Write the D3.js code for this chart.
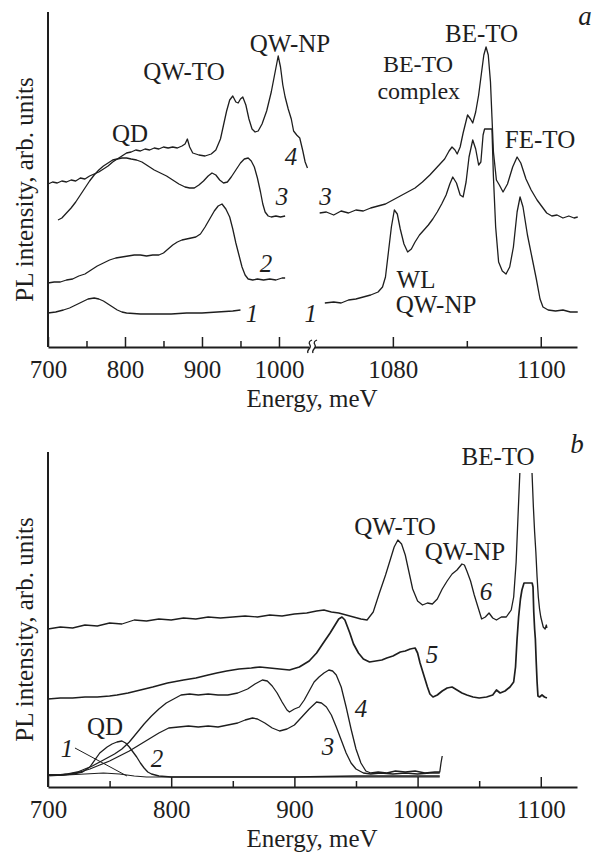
<!DOCTYPE html>
<html>
<head>
<meta charset="utf-8">
<script src="https://cdnjs.cloudflare.com/ajax/libs/d3/7.8.5/d3.min.js"></script>
<style>
  body { margin: 0; background: #fff; }
  svg text { font-family: "Liberation Serif", "Times New Roman", serif; fill: #1e1e1e; }
</style>
</head>
<body>
<div id="chart"></div>
<script>
// ---- data: [energy meV, PL intensity arb. units] ----
// panel a, left part of the energy axis (700..1044 meV)
var a1Left = [[700,34],[710,35],[720,37],[728,39],[736,42],[744,45],[752,48],[760,49],[766,48],[772,46],[778,43],[784,40],[790,37],[796,35],[802,34],[820,33],[840,33],[860,33],[880,34],[900,34],[920,35],[940,36],[950,37]];
var a2 = [[700,64],[708,65],[716,65],[724,67],[732,68],[740,71],[748,73],[756,77],[764,81],[772,84],[780,87],[788,89],[796,90],[804,91],[812,92],[820,92],[828,91],[836,92],[844,92],[850,94],[856,98],[862,102],[868,105],[874,107],[880,108],[886,109],[892,110],[898,113],[904,120],[910,128],[916,136],[921,141],[926,143],[931,138],[936,130],[940,118],[944,104],[948,92],[952,80],[956,72],[960,68],[966,67],[972,68],[980,67],[988,68],[996,67],[1004,69],[1008,69]];
var a3Left = [[713,127],[718,129],[724,134],[730,139],[736,145],[742,152],[748,159],[754,166],[760,172],[766,177],[772,181],[778,184],[784,187],[790,188],[796,189],[802,189],[808,188],[815,187],[822,185],[830,181],[838,177],[846,174],[854,171],[862,167],[870,163],[878,160],[884,159],[890,159],[896,162],[902,166],[908,171],[913,174],[918,172],[923,167],[928,164],[933,165],[938,170],[944,177],[950,184],[955,188],[960,189],[964,186],[968,180],[972,169],[976,155],[979,143],[982,135],[986,131],[990,130],[996,131],[1002,130],[1008,131]];
var a4 = [[700,163],[706,165],[712,164],[718,166],[724,165],[730,167],[736,166],[742,169],[748,168],[754,171],[760,173],[766,175],[772,178],[778,181],[784,185],[790,188],[796,191],[802,194],[808,195],[814,197],[820,196],[826,198],[832,197],[838,199],[844,198],[850,200],[856,199],[862,200],[868,199],[874,201],[878,203],[881,208],[884,200],[888,194],[896,192],[904,191],[912,193],[918,197],[924,208],[928,222],[932,236],[936,247],[940,251],[944,245],[947,244],[950,248],[953,250],[957,242],[961,228],[965,218],[969,215],[973,216],[978,223],[984,236],[990,255],[995,275],[999,291],[1002,280],[1005,262],[1008,250],[1012,238],[1016,228],[1019,216],[1023,212],[1027,209],[1031,196],[1034,185],[1037,179]];
// panel a, right part of the energy axis (1069..1105 meV)
var a1Right = [[1070.8,44],[1072,45],[1073,44],[1074,47],[1075,48],[1076,50],[1077,52],[1078,55],[1078.6,60],[1079,70],[1079.4,95],[1079.8,120],[1080.2,137],[1080.6,133],[1081,118],[1081.5,103],[1082,95],[1082.5,98],[1083,105],[1083.6,112],[1084.2,117],[1084.8,122],[1085.4,128],[1086,135],[1086.6,143],[1087.2,152],[1087.7,163],[1088.1,170],[1088.6,164],[1089.1,152],[1089.5,150],[1089.9,165],[1090.3,190],[1090.8,207],[1091.2,198],[1091.6,182],[1091.9,185],[1092.2,212],[1092.4,218],[1093.4,218],[1093.6,170],[1093.9,120],[1094.3,85],[1094.8,76],[1095.3,73],[1095.8,80],[1096.3,100],[1096.8,135],[1097.2,150],[1097.6,140],[1098.2,112],[1098.8,90],[1099.4,68],[1099.9,48],[1100.3,40],[1101,37],[1102,36],[1103,37],[1104,35],[1105,35]];
var a3Right = [[1070.1,134],[1071,135],[1072,132],[1073,136],[1074,134],[1075,137],[1076,136],[1077,139],[1078,141],[1079,143],[1080,147],[1081,151],[1082,155],[1083,159],[1084,165],[1085,172],[1086,180],[1087,188],[1087.6,196],[1088,200],[1088.4,197],[1088.7,193],[1089.1,200],[1089.5,214],[1090.1,232],[1090.5,228],[1090.8,224],[1091.2,235],[1091.6,252],[1092,275],[1092.3,292],[1092.6,300],[1092.9,292],[1093.2,265],[1093.4,230],[1093.6,195],[1094,167],[1094.4,162],[1094.9,155],[1095.5,163],[1096.2,180],[1096.8,190],[1097.3,184],[1098,168],[1098.7,157],[1099.5,147],[1100.2,140],[1100.8,134],[1101.5,131],[1102.2,132],[1103,129],[1103.8,131],[1104.5,129],[1105,130]];

// panel b
var b1 = [[700,11],[715,12],[730,13],[745,14],[758,13],[770,11],[780,10],[800,10],[850,10],[900,10],[950,10],[1018,10]];
var b2 = [[700,12],[710,12],[720,13],[728,15],[734,20],[742,34],[748,40],[752,43],[756,45],[760,46],[763,44],[766,40],[769,35],[772,30],[775,24],[778,19],[781,15],[784,13],[790,11],[800,10],[850,10],[900,10],[950,11],[1018,11]];
var b3 = [[700,12],[710,12],[718,13],[726,15],[734,18],[742,22],[750,26],[758,31],[766,36],[774,42],[782,48],[790,54],[798,59],[806,60],[814,61],[822,60],[830,61],[838,60],[846,62],[854,64],[860,67],[866,69],[870,68],[876,64],[882,59],[888,56],[894,58],[900,62],[906,70],[912,78],[918,85],[922,84],[926,80],[930,72],[934,60],[938,47],[942,34],[946,24],[950,18],[956,14],[962,13],[970,14],[980,13],[990,14],[1000,13],[1010,14],[1018,14]];
var b4 = [[700,12],[708,12],[716,13],[724,15],[730,18],[736,21],[742,25],[748,29],[754,33],[760,38],[766,45],[772,54],[778,63],[784,71],[790,78],[796,84],[802,88],[808,92],[815,93],[822,92],[830,93],[838,92],[846,92],[854,94],[862,98],[868,103],[874,107],[878,106],[882,101],[886,94],[890,85],[894,77],[896,75],[900,78],[904,80],[908,87],[912,96],[916,105],[920,110],[924,114],[928,117],[931,116],[934,112],[938,100],[942,80],[946,58],[950,38],[954,24],[958,16],[962,14],[968,15],[975,14],[982,16],[990,15],[998,16],[1006,14],[1014,15],[1018,15],[1019,24],[1020,31]];
var b5 = [[700,88],[710,89],[720,89],[730,90],[740,90],[750,91],[756,92],[765,94],[775,97],[785,100],[797,104],[810,107],[820,109],[830,112],[837,114],[845,116],[855,118],[865,119],[872,120],[880,119],[888,118],[896,117],[904,120],[912,126],[918,134],[924,145],[929,154],[933,162],[936,168],[938.6,170],[941,167],[945,154],[948,143],[952,134],[956,128],[961,125],[966,126],[971,127],[975,129],[980,131],[986,135],[990,136],[994,138],[998,139],[1000,134],[1002,124],[1005,112],[1008,100],[1010,93],[1012.5,90],[1016,92],[1020,96],[1024,99],[1028,100],[1032,97],[1036,94],[1040,92],[1045,90],[1050,89],[1056,90],[1061,92],[1064,97],[1067,94],[1071,96],[1075,100],[1078,105],[1079.5,120],[1080.7,147],[1082,170],[1083.5,188],[1084.7,197],[1086.4,204],[1093,204],[1093.7,200],[1094.3,175],[1095,158],[1095.6,148],[1096.3,125],[1097,105],[1097.7,91],[1099,90],[1101,92],[1103,90],[1105,89]];
// BE-TO line of curve 6 runs off the top of the frame (null = gap)
var b6 = [[700,158],[710,160],[720,159],[730,162],[740,161],[750,164],[760,163],[770,167],[780,166],[790,168],[800,167],[810,169],[820,168],[830,170],[840,169],[850,170],[860,171],[870,170],[880,172],[890,171],[900,173],[910,174],[918,176],[924,177],[930,175],[936,174],[942,172],[948,170],[954,168],[959,167],[964,175],[969,194],[974,212],[978,228],[981,240],[984,247],[987,243],[990,232],[993,215],[996,198],[1000,186],[1004,182],[1008,184],[1012,183],[1016,188],[1020,198],[1024,206],[1028,213],[1032,217],[1036,223],[1038,222],[1040,216],[1043,206],[1046,192],[1049,180],[1052,168],[1055,170],[1058,174],[1061,169],[1064,167],[1068,170],[1072,170],[1076,177],[1078,190],[1080,225],[1081.5,270],[1083,314],[1088,null],[1092.9,314],[1094,280],[1095,255],[1096,235],[1097,210],[1098,190],[1099,178],[1100,170],[1101,165],[1102,160],[1103.5,158],[1104.5,162],[1105,159]];

// ticks
var aTicksLeft = [700, 800, 900, 1000];
var aMinorLeft = [750, 850, 950];
var aTicksRight = [1080, 1100];
var aMinorRight = [1090];
var bTicks = [700, 800, 900, 1000, 1100];
var bMinor = [750, 850, 950, 1050];

// labels: [text, energy, intensity, anchor, italic, size]
var aLabelsLeft = [["QD",806.5,205,"middle",false],["QW-TO",876.6,267,"middle",false],["QW-NP",1014.3,295,"middle",false],
  ["4",1015.6,182,"middle",true],["3",1003.9,142,"middle",true],["2",983.1,75,"middle",true],["1",964.9,25,"middle",true]];
var aLabelsRight = [["3",1070.9,142,"middle",true],["1",1068.9,25,"middle",true],["BE-TO",1092.0,305,"middle",false],
  ["BE-TO",1083.4,275,"middle",false,24],["complex",1083.5,248,"middle",false,24],["FE-TO",1099.9,199,"middle",false],
  ["WL",1080.5,59,"start",false],["QW-NP",1080.4,34,"start",false]];
var bLabels = [["QD",746.3,52,"middle",false],["1",715.4,30,"middle",true],["2",788.5,20,"middle",true],["3",927.3,32,"middle",true],
  ["4",954.1,70,"middle",true],["5",1011.7,124,"middle",true],["6",1055.5,187,"middle",true],["QW-TO",981.7,252,"middle",false],
  ["QW-NP",1038.5,227,"middle",false],["BE-TO",1065.3,322,"middle",false]];
var bLeader = [[721.9,39],[764.1,11]];

// ---- layout ----
var width = 602;
var height = 854;
var ink = "#1e1e1e";
var fontSize = 25;

var svg = d3.select("#chart")
    .append("svg")
    .attr("width", width)
    .attr("height", height);

// scales
var xaL = d3.scaleLinear().domain([700, 1044.2]).range([48, 313]);
var xaR = d3.scaleLinear().domain([1069.2, 1104.9]).range([313, 577]);
var ya = d3.scaleLinear().domain([0, 335]).range([347, 12]);
var xb = d3.scaleLinear().domain([700, 1129.4]).range([48, 577]);
var yb = d3.scaleLinear().domain([0, 335]).range([787, 452]);

function drawCurve(data, x, y, w) {
  var line = d3.line()
      .defined(function(d) { return d[1] !== null; })
      .x(function(d) { return x(d[0]); })
      .y(function(d) { return y(d[1]); });
  svg.append("path")
      .datum(data)
      .attr("d", line)
      .attr("fill", "none")
      .attr("stroke", ink)
      .attr("stroke-width", w || 1.3)
      .attr("stroke-linejoin", "round");
}

function drawAxis(scale, yPos, major, minor) {
  var g = svg.append("g")
      .attr("transform", `translate(0, ${yPos})`)
      .call(d3.axisBottom(scale)
        .tickValues(major)
        .tickSize(-10)
        .tickSizeOuter(0)
        .tickPadding(13)
        .tickFormat(d3.format("d")));
  g.attr("font-size", fontSize).attr("font-family", null);
  g.select(".domain").attr("stroke", ink).attr("stroke-width", 2);
  g.selectAll(".tick line").attr("stroke", ink).attr("stroke-width", 1.5);
  g.selectAll(".tick text").attr("fill", ink);

  var m = svg.append("g")
      .attr("transform", `translate(0, ${yPos})`)
      .call(d3.axisBottom(scale).tickValues(minor).tickSize(-6).tickSizeOuter(0).tickFormat(""));
  m.select(".domain").remove();
  m.selectAll(".tick line").attr("stroke", ink).attr("stroke-width", 1.5);
}

function drawLabels(list, x, y) {
  list.forEach(function(d) {
    svg.append("text")
        .attr("x", x(d[1]))
        .attr("y", y(d[2]))
        .attr("text-anchor", d[3])
        .attr("font-size", d[5] || fontSize)
        .attr("font-style", d[4] ? "italic" : "normal")
        .text(d[0]);
  });
}

function yAxisLine(y) {
  svg.append("line")
      .attr("x1", 48).attr("x2", 48)
      .attr("y1", y(335)).attr("y2", y(0))
      .attr("stroke", ink)
      .attr("stroke-width", 2);
}

function yTitle(y) {
  svg.append("text")
      .attr("transform", `translate(33, ${(y(0) + y(335)) / 2 + 10}) rotate(-90)`)
      .attr("text-anchor", "middle")
      .attr("font-size", fontSize)
      .text("PL intensity, arb. units");
}

// ---- panel a ----
drawCurve(a1Left, xaL, ya);
drawCurve(a2, xaL, ya);
drawCurve(a3Left, xaL, ya);
drawCurve(a4, xaL, ya);
drawCurve(a1Right, xaR, ya);
drawCurve(a3Right, xaR, ya);

drawAxis(xaL, ya(0), aTicksLeft, aMinorLeft);
drawAxis(xaR, ya(0), aTicksRight, aMinorRight);
yAxisLine(ya);
yTitle(ya);

// axis break marks
var bx = xaL.range()[1];
var by = ya(0);
svg.append("rect")
    .attr("x", bx - 4).attr("y", by - 3)
    .attr("width", 6).attr("height", 6)
    .attr("fill", "#fff");
[bx - 4, bx + 1].forEach(function(x0) {
  svg.append("path")
      .attr("d", `M${x0 - 1},${by + 6} C${x0 - 3},${by + 3} ${x0 + 3},${by + 1} ${x0 + 1},${by - 2} S${x0 + 1},${by - 6} ${x0 + 3},${by - 7}`)
      .attr("fill", "none")
      .attr("stroke", ink)
      .attr("stroke-width", 1.3);
});

drawLabels(aLabelsLeft, xaL, ya);
drawLabels(aLabelsRight, xaR, ya);

svg.append("text")
    .attr("x", 312).attr("y", 407)
    .attr("text-anchor", "middle")
    .attr("font-size", fontSize)
    .text("Energy, meV");

svg.append("text")
    .attr("x", 585).attr("y", 25)
    .attr("text-anchor", "middle")
    .attr("font-size", 27)
    .attr("font-style", "italic")
    .text("a");

// ---- panel b ----
drawCurve(b1, xb, yb, 1.1);
drawCurve(b2, xb, yb);
drawCurve(b3, xb, yb);
drawCurve(b4, xb, yb);
drawCurve(b5, xb, yb, 1.7);
drawCurve(b6, xb, yb);

drawAxis(xb, yb(0), bTicks, bMinor);
yAxisLine(yb);
yTitle(yb);

svg.append("line")
    .attr("x1", xb(bLeader[0][0])).attr("y1", yb(bLeader[0][1]))
    .attr("x2", xb(bLeader[1][0])).attr("y2", yb(bLeader[1][1]))
    .attr("stroke", ink)
    .attr("stroke-width", 1);

drawLabels(bLabels, xb, yb);

svg.append("text")
    .attr("x", 312).attr("y", 847)
    .attr("text-anchor", "middle")
    .attr("font-size", fontSize)
    .text("Energy, meV");

svg.append("text")
    .attr("x", 577).attr("y", 453)
    .attr("text-anchor", "middle")
    .attr("font-size", 27)
    .attr("font-style", "italic")
    .text("b");
</script>
</body>
</html>
